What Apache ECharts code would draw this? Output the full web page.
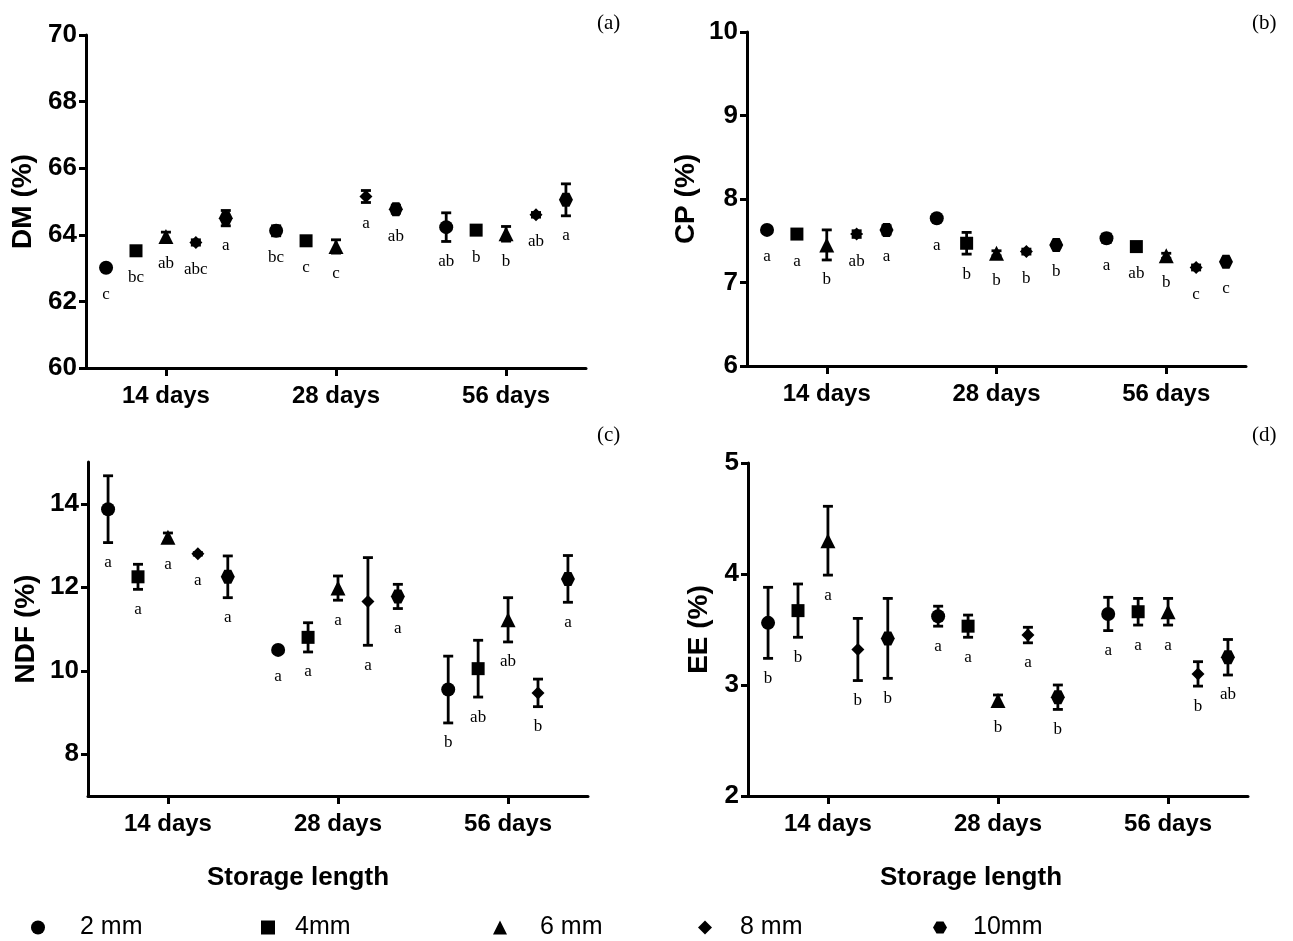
<!DOCTYPE html>
<html>
<head>
<meta charset="utf-8">
<script src="https://cdn.jsdelivr.net/npm/echarts@6/dist/echarts.min.js"></script>
<style>
  html, body { margin: 0; background: #fff; }
  #chart { width: 1293px; height: 941px; }
</style>
</head>
<body>
<div id="chart"></div>
<script>
// storage lengths (x groups) and chop sizes (series)
const days = ['14 days', '28 days', '56 days'];
const sizes = ['2 mm', '4mm', '6 mm', '8 mm', '10mm'];

// values per size: [14 days, 28 days, 56 days]
const dmMean = [[63.01, 64.12, 64.23], [63.52, 63.82, 64.14], [63.95, 63.65, 64.03], [63.77, 65.15, 64.6], [64.5, 64.77, 65.05]];
const dmSd = [[0.05, 0.15, 0.43], [0.08, 0.06, 0.06], [0.13, 0.2, 0.22], [0.08, 0.18, 0.07], [0.23, 0.12, 0.48]];
const dmLetters = [['c', 'bc', 'ab'], ['bc', 'c', 'b'], ['ab', 'c', 'b'], ['abc', 'a', 'ab'], ['a', 'ab', 'a']];

const cpMean = [[7.63, 7.77, 7.53], [7.58, 7.47, 7.43], [7.45, 7.35, 7.32], [7.58, 7.37, 7.18], [7.63, 7.45, 7.25]];
const cpSd = [[0.03, 0.03, 0.05], [0.03, 0.13, 0.03], [0.18, 0.03, 0.03], [0.04, 0.03, 0.03], [0.05, 0.03, 0.03]];
const cpLetters = [['a', 'a', 'a'], ['a', 'b', 'ab'], ['b', 'b', 'b'], ['ab', 'b', 'c'], ['a', 'b', 'c']];

const ndfMean = [[13.87, 10.5, 9.55], [12.25, 10.8, 10.05], [13.2, 11.98, 11.22], [12.8, 11.66, 9.47], [12.25, 11.78, 12.2]];
const ndfSd = [[0.8, 0.03, 0.8], [0.3, 0.35, 0.68], [0.1, 0.29, 0.53], [0.03, 1.05, 0.33], [0.5, 0.29, 0.56]];
const ndfLetters = [['a', 'a', 'b'], ['a', 'a', 'ab'], ['a', 'a', 'ab'], ['a', 'a', 'b'], ['a', 'a', 'a']];

const eeMean = [[3.56, 3.62, 3.64], [3.67, 3.53, 3.66], [4.3, 2.86, 3.66], [3.32, 3.45, 3.1], [3.42, 2.89, 3.25]];
const eeSd = [[0.32, 0.09, 0.15], [0.24, 0.1, 0.12], [0.31, 0.05, 0.12], [0.28, 0.07, 0.11], [0.36, 0.11, 0.16]];
const eeLetters = [['b', 'a', 'a'], ['b', 'a', 'a'], ['a', 'b', 'a'], ['b', 'a', 'b'], ['b', 'b', 'ab']];

const symbols = ['circle', 'rect', 'triangle', 'diamond',
  'path://M-1,0 L-0.5,-0.87 L0.5,-0.87 L1,0 L0.5,0.87 L-0.5,0.87 Z'];
const symbolSizes = [14, 13, 15, 13, 14];

const panels = [
  {name: 'DM (%)', mean: dmMean, sd: dmSd, letters: dmLetters, min: 60, max: 70, interval: 2,
   grid: {left: 86, top: 35, width: 500, height: 333}, nameGap: 49, tag: '(a)', tagPos: [612, 25]},
  {name: 'CP (%)', mean: cpMean, sd: cpSd, letters: cpLetters, min: 6, max: 10, interval: 1,
   grid: {left: 747, top: 32, width: 499, height: 334}, nameGap: 47, tag: '(b)', tagPos: [1267, 25]},
  {name: 'NDF (%)', mean: ndfMean, sd: ndfSd, letters: ndfLetters, min: 7, max: 15, ticks: [8, 10, 12, 14],
   grid: {left: 88, top: 462, width: 500, height: 334}, nameGap: 48, tag: '(c)', tagPos: [612, 437]},
  {name: 'EE (%)', mean: eeMean, sd: eeSd, letters: eeLetters, min: 2, max: 5, interval: 1,
   grid: {left: 748, top: 463, width: 500, height: 333}, nameGap: 35, tag: '(d)', tagPos: [1267, 437]}
];

const spread = 0.176; // x offset between sizes inside a group
const xOf = (s, g) => g + (s - 2) * spread;

const sans = '"Liberation Sans", Arial, sans-serif';
const serif = '"Liberation Serif", "Times New Roman", serif';

function errorBars(letters) {
  return function (params, api) {
    const x = api.value(0), m = api.value(1), sd = api.value(2);
    const p = api.coord([x, m]);
    const hi = api.coord([x, m + sd]);
    const lo = api.coord([x, m - sd]);
    const st = {stroke: '#000', lineWidth: 2.8};
    return {
      type: 'group',
      children: [
        {type: 'line', shape: {x1: p[0], y1: hi[1], x2: p[0], y2: lo[1]}, style: st},
        {type: 'line', shape: {x1: p[0] - 5, y1: hi[1], x2: p[0] + 5, y2: hi[1]}, style: st},
        {type: 'line', shape: {x1: p[0] - 5, y1: lo[1], x2: p[0] + 5, y2: lo[1]}, style: st},
        {type: 'text', style: {
          text: letters[params.dataIndex], x: p[0], y: Math.max(lo[1], p[1] + 7) + 20,
          align: 'center', verticalAlign: 'middle', font: '17px ' + serif, fill: '#000'
        }}
      ]
    };
  };
}

const grids = [], xAxes = [], yAxes = [], series = [], graphics = [];
panels.forEach((pn, i) => {
  grids.push(pn.grid);
  xAxes.push({
    gridIndex: i, type: 'value', min: -0.47, max: 2.47,
    splitLine: {show: false},
    axisLine: {onZero: false, lineStyle: {color: '#000', width: 3}},
    axisTick: {customValues: [0, 1, 2], length: 8, lineStyle: {color: '#000', width: 3}},
    axisLabel: {customValues: [0, 1, 2], formatter: v => days[Math.round(v)], margin: 16,
      color: '#000', fontWeight: 'bold', fontSize: 24, fontFamily: sans}
  });
  const y = {
    gridIndex: i, type: 'value', min: pn.min, max: pn.max,
    name: pn.name, nameLocation: 'middle', nameGap: pn.nameGap,
    nameTextStyle: {color: '#000', fontWeight: 'bold', fontSize: 28, fontFamily: sans},
    splitLine: {show: false},
    axisLine: {show: true, onZero: false, lineStyle: {color: '#000', width: 3}},
    axisTick: {show: true, length: 7, lineStyle: {color: '#000', width: 3}},
    axisLabel: {margin: 9, color: '#000', fontWeight: 'bold', fontSize: 26, fontFamily: sans}
  };
  if (pn.ticks) {
    y.axisTick.customValues = pn.ticks;
    y.axisLabel.customValues = pn.ticks;
  } else {
    y.interval = pn.interval;
  }
  yAxes.push(y);

  const barData = [], barLetters = [];
  sizes.forEach((sz, s) => {
    series.push({
      name: sz, type: 'scatter', xAxisIndex: i, yAxisIndex: i,
      symbol: symbols[s], symbolSize: symbolSizes[s],
      itemStyle: {color: '#000', opacity: 1}, z: 3,
      data: days.map((d, g) => [xOf(s, g), pn.mean[s][g]])
    });
    days.forEach((d, g) => {
      barData.push([xOf(s, g), pn.mean[s][g], pn.sd[s][g]]);
      barLetters.push(pn.letters[s][g]);
    });
  });
  series.push({
    type: 'custom', xAxisIndex: i, yAxisIndex: i, silent: true, z: 2,
    renderItem: errorBars(barLetters), data: barData
  });

  graphics.push({type: 'text', left: pn.tagPos[0] - 15, top: pn.tagPos[1] - 12,
    style: {text: pn.tag, font: '21px ' + serif, fill: '#000'}});
});

['Storage length', 'Storage length'].forEach((t, k) => {
  graphics.push({type: 'text', left: k === 0 ? 207 : 880, top: 865,
    style: {text: t, font: 'bold 26px ' + sans, fill: '#000'}});
});

// legend: one per size so each sits where it does in the figure
const legendIcon = [38, 268, 500, 705, 940];
const legendText = [80, 295, 540, 740, 973];
const legends = sizes.map((sz, s) => ({
  left: legendIcon[s] - 7, top: 915, padding: 0,
  itemWidth: 14, itemHeight: 14, selectedMode: false,
  data: [{name: sz, icon: symbols[s], itemStyle: {color: '#000'}}],
  textStyle: {color: '#000', fontSize: 25, fontFamily: sans,
    padding: [0, 0, 0, legendText[s] - legendIcon[s] - 12]}
}));

const chart = echarts.init(document.getElementById('chart'));
chart.setOption({
  backgroundColor: '#fff',
  animation: false,
  grid: grids,
  xAxis: xAxes,
  yAxis: yAxes,
  legend: legends,
  graphic: graphics,
  series: series
});
</script>
</body>
</html>
